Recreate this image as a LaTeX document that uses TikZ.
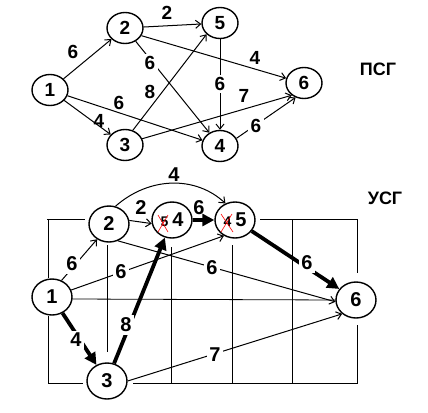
\documentclass[tikz,border=0pt]{standalone}
\usepackage{fontspec}
\setmainfont{Liberation Sans}
\usetikzlibrary{shapes.geometric,arrows.meta}
\begin{document}
\begin{tikzpicture}[x=1pt,y=-1pt,
  tnode/.style={ellipse,draw,line width=1.4pt,minimum width=36pt,minimum height=31pt,inner sep=0pt,font=\fontsize{19}{19}\selectfont\bfseries},
  bnode/.style={ellipse,draw,line width=1.4pt,minimum width=40pt,minimum height=36pt,inner sep=0pt,font=\fontsize{20}{20}\selectfont\bfseries},
  thinarr/.style={line width=1pt,-{Straight Barb[length=5pt,width=8pt]}},
  thickarr/.style={line width=3.8pt,-{Triangle[length=12pt,width=12pt]}},
  lbl/.style={inner sep=0.5pt,font=\fontsize{19}{19}\selectfont\bfseries},
  blbl/.style={inner sep=0.5pt,font=\fontsize{20}{20}\selectfont\bfseries},
  wl/.style={inner sep=2.5pt,fill=white},
  gridline/.style={line width=0.8pt},
  cross/.style={red,line width=0.6pt},
  ttl/.style={font=\fontsize{18}{18}\selectfont\bfseries}
]
\useasboundingbox (0,0) rectangle (428,412);

% ---------- upper graph ----------
\node[tnode] (n1) at (50,90) {1};
\node[tnode] (n2) at (125,28) {2};
\node[tnode] (n3) at (125,145) {3};
\node[tnode] (n5) at (220,23) {5};
\node[tnode] (n4) at (220,146) {4};
\node[tnode] (n6) at (304,83) {6};
\node[ttl] (psg) at (378,69) {ПСГ};

\draw[thinarr] (n1) -- (n2);
\draw[thinarr] (n2) -- (n5);
\draw[thinarr] (n2) -- (n4);
\draw[thinarr] (n1) -- (n4);
\draw[thinarr] (n1) -- (n3);
\draw[thinarr] (n3.62) -- (n5.-140);
\draw[thinarr] (n3.20) -- (n6.-135);
\draw[thinarr] (n2.-25) -- (n6.165);
\draw[thinarr] (n5) -- (n4);
\draw[thinarr] (n4.25) -- (n6.-120);

\node[lbl] (l12) at (73,52) {6};
\node[lbl] (l25) at (167,13) {2};
\node[lbl,wl] (l24) at (150,63) {6};
\node[lbl] (l35) at (150,92) {8};
\node[lbl] (l14) at (119,103) {6};
\node[lbl] (l13) at (99,121) {4};
\node[lbl,wl] (l54) at (220,84) {6};
\node[lbl] (l26) at (255,58) {4};
\node[lbl] (l36) at (244,96) {7};
\node[lbl,wl] (l46) at (256,126) {6};

% ---------- grid of the lower graph ----------
\draw[gridline] (47,219) -- (85,219);
\draw[gridline] (260,219) -- (357,219);
\draw[gridline] (72,299) -- (336,300);
\draw[gridline] (48,383) -- (83,383);
\draw[gridline] (133,383) -- (358,383);
\draw[gridline] (48,219) -- (48,278);
\draw[gridline] (48,316) -- (48,383);
\draw[gridline] (107,245) -- (107,352);
\draw[gridline] (171,247) -- (171,383);
\draw[gridline] (232,245) -- (232,383);
\draw[gridline] (292,219) -- (292,384);
\draw[gridline] (357,219) -- (357,273);
\draw[gridline] (357,325) -- (357,383);

% ---------- lower graph ----------
\node[bnode] (b1) at (52,297) {1};
\node[bnode] (b2) at (109,224) {2};
\node[bnode] (b54) at (172,220) {{\fontsize{14}{14}\selectfont 5}\hspace{4pt}4};
\node[bnode] (b45) at (235,220) {{\fontsize{14}{14}\selectfont 4}\hspace{4pt}5};
\node[bnode] (b3) at (107,381) {3};
\node[bnode] (b6) at (356,300) {6};
\node[ttl] (usg) at (385,198) {УСГ};

\draw[cross] ([shift={(-14,-5)}]b54.center) -- ([shift={(-4,12)}]b54.center);
\draw[cross] ([shift={(-4,-5)}]b54.center) -- ([shift={(-14,12)}]b54.center);
\draw[cross] ([shift={(-14,-6)}]b45.center) -- ([shift={(-2,12)}]b45.center);
\draw[cross] ([shift={(-3,-6)}]b45.center) -- ([shift={(-14,12)}]b45.center);

\draw[thinarr] (b1.60) -- (b2.-128);
\draw[thinarr] (b1.20) -- (b45.-125);
\draw[thinarr] (b2.-62) -- (b6.185);
\draw[thinarr] (b2.10) -- (b54.190);
\draw[thinarr] (b2.70) .. controls (150,176) and (196,176) .. (b45.120);
\draw[thinarr] (b3.east) -- (b6.-135);
\draw[thickarr] (b54) -- (b45);
\draw[thickarr] (b3) -- (b54);
\draw[thickarr] (b1) -- (b3);
\draw[thickarr] (b45) -- (b6);

\node[blbl,wl] (k12) at (72,264) {6};
\node[blbl,wl] (k145) at (121,272) {6};
\node[blbl,wl] (k26) at (212,268) {6};
\node[blbl] (k254) at (141,208) {2};
\node[blbl] (k245) at (174,175) {4};
\node[blbl] (k5445) at (199,208) {6};
\node[blbl,wl] (k354) at (126,325) {8};
\node[blbl,wl] (k13) at (76,340) {4};
\node[blbl,wl] (k456) at (307,263) {6};
\node[blbl,wl] (k36) at (215,355) {7};
\end{tikzpicture}
\end{document}
